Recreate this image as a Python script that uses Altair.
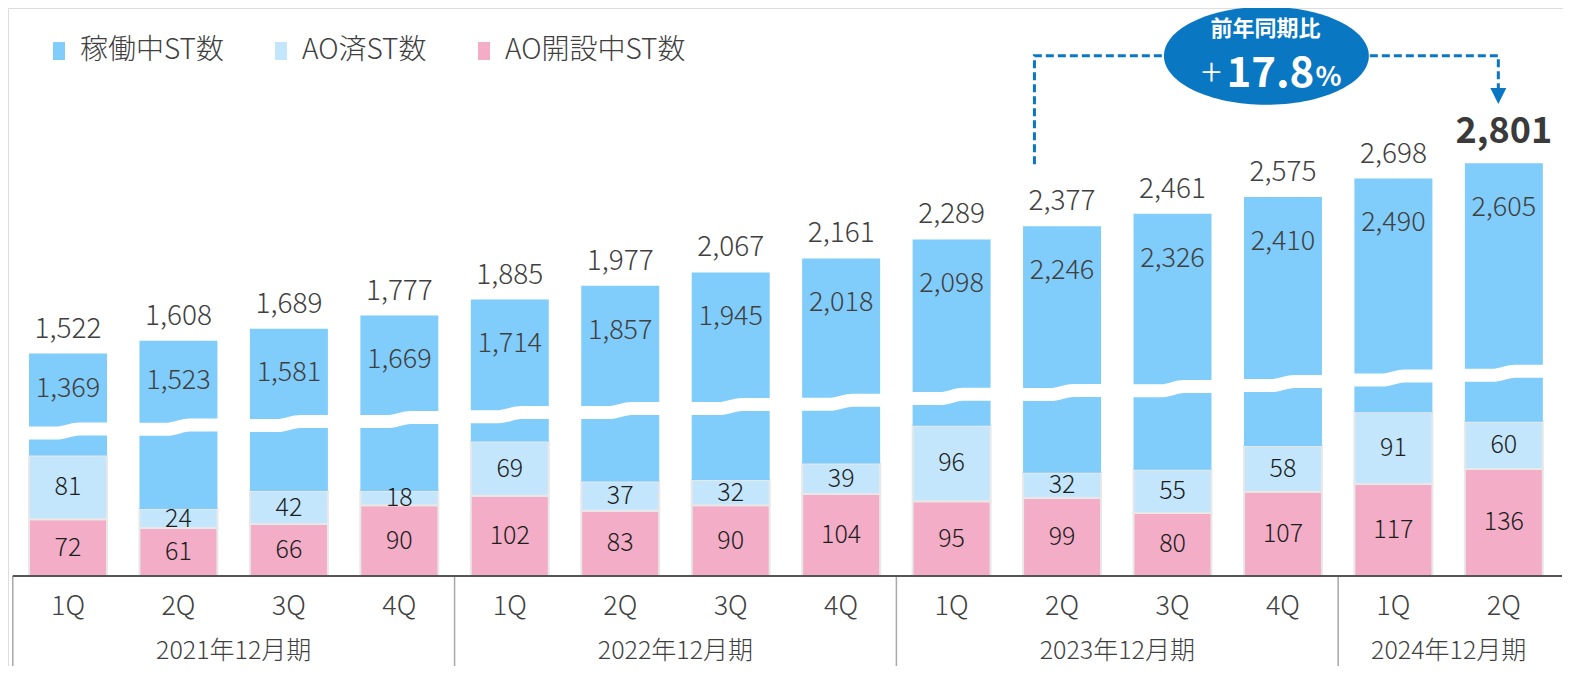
import altair as alt
import pandas as pd

# ---------------- data ----------------
quarters = ["1Q", "2Q", "3Q", "4Q", "1Q", "2Q", "3Q", "4Q", "1Q", "2Q", "3Q", "4Q", "1Q", "2Q"]
fiscal_years = ["2021年12月期", "2022年12月期", "2023年12月期", "2024年12月期"]
fiscal_year_of_bar = [0, 0, 0, 0, 1, 1, 1, 1, 2, 2, 2, 2, 3, 3]
active_st = [1369, 1523, 1581, 1669, 1714, 1857, 1945, 2018, 2098, 2246, 2326, 2410, 2490, 2605]
ao_done_st = [81, 24, 42, 18, 69, 37, 32, 39, 96, 32, 55, 58, 91, 60]
ao_opening_st = [72, 61, 66, 90, 102, 83, 90, 104, 95, 99, 80, 107, 117, 136]
total_st = [1522, 1608, 1689, 1777, 1885, 1977, 2067, 2161, 2289, 2377, 2461, 2575, 2698, 2801]
series_names = ["稼働中ST数", "AO済ST数", "AO開設中ST数"]
yoy_title = "前年同期比"
yoy_sign = "+"
yoy_value = "17.8"
yoy_unit = "%"

# ---------------- style ----------------
FONT = "Noto Sans CJK JP"
series_colors = ["#80CCFB", "#C4E6FC", "#F3ADC6"]
TEXT_DARK = "#404040"
ANN_BLUE = "#0A77C2"
LIGHT = 300

# broken-axis display: lower segments true scale, blue segment compressed
COMPRESS = 0.189
COMPRESS_OFF = -5.0
BREAK_BASE = 97.0
BREAK_SLOPE = 0.0573
BREAK_HALF = 8.0
HALF_W = 0.353

X_DOMAIN = [-0.5432, 13.5355]
Y_DOMAIN = [-114.4, 721.7]
xs = alt.Scale(domain=X_DOMAIN, nice=False, zero=False)
ys = alt.Scale(domain=Y_DOMAIN, nice=False, zero=False)

n = len(total_st)
idx = list(range(n))
disp_top = [COMPRESS * t + COMPRESS_OFF for t in total_st]
break_c = [BREAK_BASE + BREAK_SLOPE * t for t in total_st]

rows = []
for i in idx:
    p, a = ao_opening_st[i], ao_done_st[i]
    rows.append(dict(i=i, x0=i - HALF_W, x1=i + HALF_W, series=series_names[2], y0=0, y1=p))
    rows.append(dict(i=i, x0=i - HALF_W, x1=i + HALF_W, series=series_names[1], y0=p, y1=p + a))
    rows.append(dict(i=i, x0=i - HALF_W, x1=i + HALF_W, series=series_names[0], y0=p + a, y1=disp_top[i]))
bars_df = pd.DataFrame(rows)

# labels
lab_rows = []
for i in idx:
    p, a = ao_opening_st[i], ao_done_st[i]
    upper = disp_top[i] - (break_c[i] + BREAK_HALF)
    lab_rows.append(dict(i=i, kind="blue", v=active_st[i], y=disp_top[i] - min(57, upper / 2)))
    lab_rows.append(dict(i=i, kind="ao", v=a, y=p + a / 2))
    lab_rows.append(dict(i=i, kind="pink", v=p, y=p / 2))
labels_df = pd.DataFrame(lab_rows)
totals_df = pd.DataFrame(dict(i=idx, v=total_st, y=disp_top, last=[k == n - 1 for k in idx]))

# wave (axis break) decoration
wave_rows = []
for i in idx:
    for k, (dx, dy) in enumerate([(-0.40, -2.6), (-0.10, -2.6), (0.10, 2.6), (0.40, 2.6)]):
        wave_rows.append(dict(i=i, k=k, x=i + dx, y=break_c[i] + dy))
wave_df = pd.DataFrame(wave_rows)

# axis labels
q_df = pd.DataFrame(dict(i=idx, q=quarters))
fy_centers = []
for g in range(len(fiscal_years)):
    members = [i for i in idx if fiscal_year_of_bar[i] == g]
    fy_centers.append((members[0] + members[-1]) / 2)
fy_df = pd.DataFrame(dict(x=fy_centers, label=fiscal_years))
sep_x = [-0.5] + [i + 0.5 for i in idx[:-1] if fiscal_year_of_bar[i] != fiscal_year_of_bar[i + 1]]
sep_df = pd.DataFrame(dict(x=sep_x))

# annotation geometry (display units)
ANN_X0, ANN_X1 = 8.75, 12.95
ANN_LEVEL = 661.0
ANN_Y0 = 523.0
ANN_Y1 = 618.0
ann_line_df = pd.DataFrame(dict(k=[0, 1, 2, 3], x=[ANN_X0, ANN_X0, ANN_X1, ANN_X1],
                                y=[ANN_Y0, ANN_LEVEL, ANN_LEVEL, ANN_Y1]))
ann_arrow_df = pd.DataFrame(dict(x=[ANN_X1], y=[610.0]))
ann_center_df = pd.DataFrame(dict(x=[(ANN_X0 + ANN_X1) / 2], y=[ANN_LEVEL]))

# ---------------- chart ----------------
base_bars = alt.Chart(bars_df).mark_bar(strokeWidth=2).encode(
    x=alt.X("x0:Q", scale=xs, axis=None),
    x2="x1:Q",
    y=alt.Y("y0:Q", scale=ys, axis=None),
    y2="y1:Q",
    color=alt.Color(
        "series:N",
        scale=alt.Scale(domain=series_names, range=series_colors),
        legend=alt.Legend(
            orient="none", legendX=37, legendY=29, direction="horizontal", title=None,
            symbolType="M-0.667,-1L0.667,-1L0.667,1L-0.667,1Z", symbolSize=324,
            symbolStrokeWidth=0, symbolOpacity=1,
            labelFont=FONT, labelFontSize=28, labelFontWeight=LIGHT, labelColor=TEXT_DARK,
            labelOffset=7, columnPadding=43, padding=0, labelLimit=400,
        ),
    ),
    stroke=alt.condition(alt.datum.series == series_names[0], alt.value("transparent"), alt.value("#E8E8E8")),
)

wave = alt.Chart(wave_df).mark_line(color="white", strokeWidth=13, interpolate="monotone").encode(
    x=alt.X("x:Q", scale=xs, axis=None),
    y=alt.Y("y:Q", scale=ys, axis=None),
    detail="i:N",
    order="k:Q",
)

blue_labels = alt.Chart(labels_df).transform_filter(alt.datum.kind == "blue").mark_text(
    font=FONT, fontSize=27, fontWeight=LIGHT, color=TEXT_DARK, baseline="middle"
).encode(x=alt.X("i:Q", scale=xs), y=alt.Y("y:Q", scale=ys), text=alt.Text("v:Q", format=","))

small_labels = alt.Chart(labels_df).transform_filter(alt.datum.kind != "blue").mark_text(
    font=FONT, fontSize=25, fontWeight=LIGHT, color="#1E1E1E", baseline="middle"
).encode(x=alt.X("i:Q", scale=xs), y=alt.Y("y:Q", scale=ys), text=alt.Text("v:Q", format=","))

total_labels = alt.Chart(totals_df).transform_filter(~alt.datum.last).mark_text(
    font=FONT, fontSize=28, fontWeight=LIGHT, color=TEXT_DARK, baseline="middle", dy=-24
).encode(x=alt.X("i:Q", scale=xs), y=alt.Y("y:Q", scale=ys), text=alt.Text("v:Q", format=","))

total_last = alt.Chart(totals_df).transform_filter(alt.datum.last).mark_text(
    font=FONT, fontSize=36, fontWeight="bold", color="#3A3A3A", baseline="middle", dy=-31
).encode(x=alt.X("i:Q", scale=xs), y=alt.Y("y:Q", scale=ys), text=alt.Text("v:Q", format=","))

baseline = alt.Chart(pd.DataFrame(dict(x=[-0.5], x2=[13.527], y=[0]))).mark_rule(
    color="#555555", strokeWidth=2
).encode(x=alt.X("x:Q", scale=xs), x2="x2:Q", y=alt.Y("y:Q", scale=ys))

seps = alt.Chart(sep_df).mark_rule(color="#A8A8A8", strokeWidth=1.5).encode(
    x=alt.X("x:Q", scale=xs), y=alt.datum(0, scale=ys), y2=alt.datum(Y_DOMAIN[0])
)

q_labels = alt.Chart(q_df).mark_text(
    font=FONT, fontSize=27, fontWeight=LIGHT, color=TEXT_DARK, baseline="middle", dy=31
).encode(x=alt.X("i:Q", scale=xs), y=alt.datum(0, scale=ys), text="q:N")

fy_labels = alt.Chart(fy_df).mark_text(
    font=FONT, fontSize=25, fontWeight=LIGHT, color=TEXT_DARK, baseline="middle", dy=75
).encode(x=alt.X("x:Q", scale=xs), y=alt.datum(0, scale=ys), text="label:N")

ann_line = alt.Chart(ann_line_df).mark_line(color=ANN_BLUE, strokeWidth=3, strokeDash=[8, 4]).encode(
    x=alt.X("x:Q", scale=xs), y=alt.Y("y:Q", scale=ys), order="k:Q"
)
ann_arrow = alt.Chart(ann_arrow_df).mark_point(
    shape="M-1,-1L1,-1L0,1Z", size=256, filled=True, color=ANN_BLUE, opacity=1
).encode(x=alt.X("x:Q", scale=xs), y=alt.Y("y:Q", scale=ys))

ELLIPSE = ("M-1,0C-1,-0.264,-0.552,-0.478,0,-0.478C0.552,-0.478,1,-0.264,1,0"
           "C1,0.264,0.552,0.478,0,0.478C-0.552,0.478,-1,0.264,-1,0Z")
ann_ellipse = alt.Chart(ann_center_df).mark_point(
    shape=ELLIPSE, size=205 * 205, filled=True, color=ANN_BLUE, opacity=1
).encode(x=alt.X("x:Q", scale=xs), y=alt.Y("y:Q", scale=ys))

ann_t1 = alt.Chart(ann_center_df).mark_text(
    text=yoy_title, font=FONT, fontSize=22, fontWeight="bold", color="white", baseline="middle", dy=-27, dx=-1
).encode(x=alt.X("x:Q", scale=xs), y=alt.Y("y:Q", scale=ys))
ann_t2 = alt.Chart(ann_center_df).mark_text(
    text=yoy_sign, font=FONT, fontSize=38, fontWeight=LIGHT, color="white", baseline="alphabetic", dy=30, dx=-55
).encode(x=alt.X("x:Q", scale=xs), y=alt.Y("y:Q", scale=ys))
ann_t3 = alt.Chart(ann_center_df).mark_text(
    text=yoy_value, font=FONT, fontSize=42, fontWeight="bold", color="white", baseline="alphabetic", dy=31, dx=4
).encode(x=alt.X("x:Q", scale=xs), y=alt.Y("y:Q", scale=ys))
ann_t4 = alt.Chart(ann_center_df).mark_text(
    text=yoy_unit, font=FONT, fontSize=27, fontWeight="bold", color="white", baseline="alphabetic", dy=30, dx=62
).encode(x=alt.X("x:Q", scale=xs), y=alt.Y("y:Q", scale=ys))

chart = alt.layer(
    base_bars, wave, blue_labels, small_labels, total_labels, total_last,
    seps, baseline, q_labels, fy_labels,
    ann_line, ann_arrow, ann_ellipse, ann_t1, ann_t2, ann_t3, ann_t4,
).properties(
    width=1555, height=658, padding=0,
    autosize=alt.AutoSizeParams(type="none"),
).configure_view(strokeWidth=0).configure(font=FONT)

chart.save("out.html", embed_options={"renderer": "svg", "actions": False})
